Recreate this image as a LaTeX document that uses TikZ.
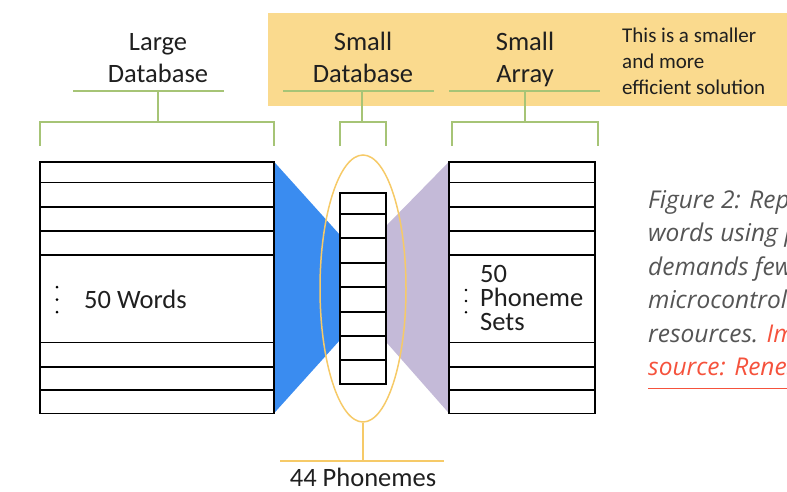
\documentclass[tikz,border=0pt]{standalone}
\usepackage{fontspec}
\setmainfont{Carlito}
\newfontfamily\capfont{Open Sans}
\usetikzlibrary{shapes.geometric}

\definecolor{bracketgreen}{RGB}{166,196,118}
\definecolor{notegold}{RGB}{250,218,142}
\definecolor{funnelblue}{RGB}{58,140,240}
\definecolor{funnelpurple}{RGB}{196,186,216}
\definecolor{ringyellow}{RGB}{246,202,104}
\definecolor{captiongrey}{RGB}{85,85,85}
\definecolor{linkred}{RGB}{245,82,60}

\tikzset{
  table/.style={draw=black, line width=1.6pt, inner sep=0pt, outer sep=0pt, anchor=north west},
  rowline/.style={draw=black, line width=1.6pt},
  bracket/.style={draw=bracketgreen, line width=1.8pt},
  headtext/.style={font=\fontsize{26.5}{32}\selectfont, align=center, anchor=base, inner sep=0pt, text=black!88},
  bodytext/.style={font=\fontsize{26.5}{24}\selectfont, align=left, anchor=base west, inner sep=0pt, text=black!88},
  notetext/.style={font=\fontsize{21}{26}\selectfont, align=left, anchor=base west, inner sep=0pt, text=black!88},
  captext/.style={font=\capfont\itshape\fontsize{24.5}{33.5}\selectfont, anchor=base west, inner sep=0pt, text=captiongrey},
  vdot/.style={fill=black, draw=none}
}

\begin{document}
\begin{tikzpicture}[x=1pt,y=-1pt]
\useasboundingbox (0,0) rectangle (787,491);
\begin{scope}
\clip (0,0) rectangle (787,491);

% highlighted note band
\fill[notegold] (268,13) rectangle (787,106);

% funnels between the stores
\fill[funnelblue] (274,161.7) -- (340,235) -- (340,340) -- (274,413.3) -- cycle;
\fill[funnelpurple] (387,225) -- (449,161.7) -- (449,413.3) -- (387,343) -- cycle;

% large database
\node[table, minimum width=234pt, minimum height=251.6pt] (big) at (40,161.7) {};
\foreach \y in {182.3,206.7,231,255,342.3,366.7,390}
  \draw[rowline] (40,\y) -- (274,\y);

% small array
\node[table, fill=white, minimum width=146pt, minimum height=251.6pt] (arr) at (449,161.7) {};
\foreach \y in {182.3,206.7,231,255,342.3,366.7,390}
  \draw[rowline] (449,\y) -- (595,\y);

% small database (44 phonemes)
\node[table, fill=white, minimum width=46pt, minimum height=191.5pt] (small) at (340,192.7) {};
\foreach \y in {214,238,263,287,312,336,360}
  \draw[rowline] (340,\y) -- (386,\y);

% phoneme ring and its label
\node[draw=ringyellow, line width=1.5pt, ellipse, minimum width=86pt, minimum height=267pt, inner sep=0pt] (ring) at (363,288.5) {};
\coordinate (ringfoot) at (363,461);
\draw[draw=ringyellow, line width=1.5pt] (ring.south) -- (ringfoot);
\draw[draw=ringyellow, line width=1.5pt] (280,461) -- (444,461);
\node[headtext] (phon) at (363,486.5) {44 Phonemes};

% header labels (anchored on the baseline of their last line)
\node[headtext] (lbig) at (158,82) {Large\\Database};
\node[headtext] (lsmall) at (363,82) {Small\\Database};
\node[headtext] (larr) at (525,82) {Small\\Array};
\node[notetext] (note) at (622,94) {This is a smaller\\and more\\efficient solution};

% green brackets
\draw[bracket] (73,91) -- (224,91);
\draw[bracket] (158,91) -- (158,122);
\draw[bracket] (40,146) -- (40,122) -- (274,122) -- (274,146);

\draw[bracket] (283,91) -- (434,91);
\draw[bracket] (362,91) -- (362,122);
\draw[bracket] (340,146) -- (340,122) -- (386,122) -- (386,146);

\draw[bracket] (449,91) -- (600,91);
\draw[bracket] (525,91) -- (525,122);
\draw[bracket] (452,146) -- (452,122) -- (598,122) -- (598,146);

% row contents
\node[bodytext] (words) at (84,308) {50 Words};
\foreach \y in {287,299.5,312} \fill[vdot] (57,\y) circle (1.5pt);
\node[bodytext] (sets) at (480,330) {50\\Phoneme\\Sets};
\foreach \y in {290,301,312.3} \fill[vdot] (466,\y) circle (1.4pt);

% caption
\node[captext] (c1) at (648,208) {Figure 2: Rep};
\node[captext] (c2) at (648,241.5) {words using p};
\node[captext] (c3) at (648,275) {demands few};
\node[captext] (c4) at (648,308.5) {microcontroll};
\node[captext] (c5) at (648,342) {resources. \textcolor{linkred}{Im}};
\node[captext, text=linkred] (c6) at (648,375.5) {source: Renes};
\draw[draw=linkred, line width=1.3pt] (648,388.3) -- (787,388.3);
\end{scope}
\end{tikzpicture}
\end{document}
